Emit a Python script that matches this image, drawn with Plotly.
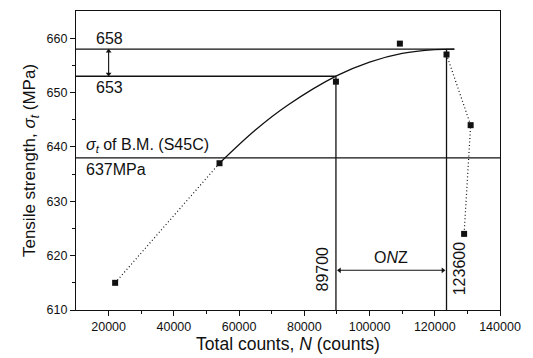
import plotly.graph_objects as go

# measured points
pts_x = [22000, 54000, 89700, 109300, 123600, 131000, 129000]
pts_y = [615, 637, 652, 659, 657, 644, 624]

# dotted connections
dot1_x = [22000, 54000]
dot1_y = [615, 637]
dot2_x = [123600, 131000, 129000]
dot2_y = [657, 644, 624]

# fitted curve
curve_x = [54000, 65000, 75000, 90000, 100000, 110000, 120000, 126000]
curve_y = [637, 643.1, 647.7, 653.1, 655.6, 657.2, 657.9, 658.0]

# reference levels
lvl_658 = 658
lvl_653 = 653
lvl_bm = 638
n_lo = 89700
n_hi = 123600
onz_y = 617.3

x_ticks = [20000, 40000, 60000, 80000, 100000, 120000, 140000]
y_ticks = [610, 620, 630, 640, 650, 660]

fig = go.Figure()
line_col = "#111"
fig.add_trace(go.Scatter(x=dot1_x, y=dot1_y, mode="lines",
                         line=dict(color=line_col, width=1.2, dash="1px,2.5px")))
fig.add_trace(go.Scatter(x=dot2_x, y=dot2_y, mode="lines",
                         line=dict(color=line_col, width=1.2, dash="1px,2.5px")))
fig.add_trace(go.Scatter(x=curve_x, y=curve_y, mode="lines", line_shape="spline",
                         line=dict(color=line_col, width=1.3)))
# horizontal reference lines
fig.add_trace(go.Scatter(x=[10000, 126000], y=[lvl_658, lvl_658], mode="lines",
                         line=dict(color=line_col, width=1.3)))
fig.add_trace(go.Scatter(x=[10000, n_lo], y=[lvl_653, lvl_653], mode="lines",
                         line=dict(color=line_col, width=1.3)))
fig.add_trace(go.Scatter(x=[10000, 140000], y=[lvl_bm, lvl_bm], mode="lines",
                         line=dict(color=line_col, width=1.3)))
# vertical lines
fig.add_trace(go.Scatter(x=[n_lo, n_lo], y=[610, lvl_653], mode="lines",
                         line=dict(color=line_col, width=1.3)))
fig.add_trace(go.Scatter(x=[n_hi, n_hi], y=[610, lvl_658], mode="lines",
                         line=dict(color=line_col, width=1.3)))
# double arrows (line + arrowhead markers)
fig.add_trace(go.Scatter(x=[20000, 20000], y=[lvl_653 + 0.4, lvl_658 - 0.4], mode="lines+markers",
                         line=dict(color=line_col, width=1.1),
                         marker=dict(symbol=["triangle-down", "triangle-up"], size=5, color=line_col)))
fig.add_trace(go.Scatter(x=[n_lo + 1100, n_hi - 1100], y=[onz_y, onz_y], mode="lines+markers",
                         line=dict(color=line_col, width=1.1),
                         marker=dict(symbol=["triangle-left", "triangle-right"], size=5, color=line_col)))
fig.add_trace(go.Scatter(x=pts_x, y=pts_y, mode="markers",
                         marker=dict(symbol="square", size=6, color="#111")))

font = "Liberation Sans, Arial, sans-serif"
ann = []
txt = dict(showarrow=False, xref="x", yref="y", font=dict(family=font, size=16, color="#111"))
ann.append(dict(x=15500, y=658.1, text="658", xanchor="left", yanchor="bottom", **txt))
ann.append(dict(x=15500, y=652.9, text="653", xanchor="left", yanchor="top", **txt))
ann.append(dict(x=12500, y=638.2, text="<i>σ</i><sub><i>t</i></sub> of B.M. (S45C)",
                xanchor="left", yanchor="bottom", **txt))
ann.append(dict(x=12500, y=637.8, text="637MPa", xanchor="left", yanchor="top", **txt))
ann.append(dict(x=106700, y=617.8, text="O<i>N</i>Z", xanchor="center", yanchor="bottom", **txt))
ann.append(dict(x=n_lo - 800, y=617.6, text="89700", textangle=-90,
                xanchor="right", yanchor="middle", **txt))
ann.append(dict(x=n_hi + 800, y=617.6, text="123600", textangle=-90,
                xanchor="left", yanchor="middle", **txt))
fig.update_layout(annotations=ann)

fig.update_layout(
    width=533, height=358, showlegend=False,
    margin=dict(l=76, r=33, t=10, b=43),
    paper_bgcolor="white", plot_bgcolor="white",
    font=dict(family=font, color="#111"),
)
fig.update_xaxes(range=[10000, 140000], tickvals=x_ticks, ticktext=[str(v) for v in x_ticks],
                 ticks="outside", ticklen=5, tickwidth=1.2, tickcolor="#111",
                 minor=dict(tickvals=[30000, 50000, 70000, 90000, 110000, 130000], ticks="outside",
                            ticklen=3, tickcolor="#111"),
                 showline=True, linecolor="#111", linewidth=1.3, mirror=True, showgrid=False,
                 zeroline=False, tickfont=dict(size=12.5, family=font, color="#111"),
                 title=dict(text="Total counts, <i>N</i> (counts)", font=dict(size=17.5), standoff=2))
fig.update_yaxes(range=[610, 665], tickvals=y_ticks, ticktext=[str(v) for v in y_ticks],
                 ticks="outside", ticklen=5, tickwidth=1.2, tickcolor="#111",
                 minor=dict(tickvals=[615, 625, 635, 645, 655], ticks="outside",
                            ticklen=3, tickcolor="#111"),
                 showline=True, linecolor="#111", linewidth=1.3, mirror=True, showgrid=False,
                 zeroline=False, tickfont=dict(size=12.5, family=font, color="#111"),
                 title=dict(text="Tensile strength, <i>σ</i><sub><i>t</i></sub> (MPa)",
                            font=dict(size=17), standoff=6))

fig.write_html("out.html")
